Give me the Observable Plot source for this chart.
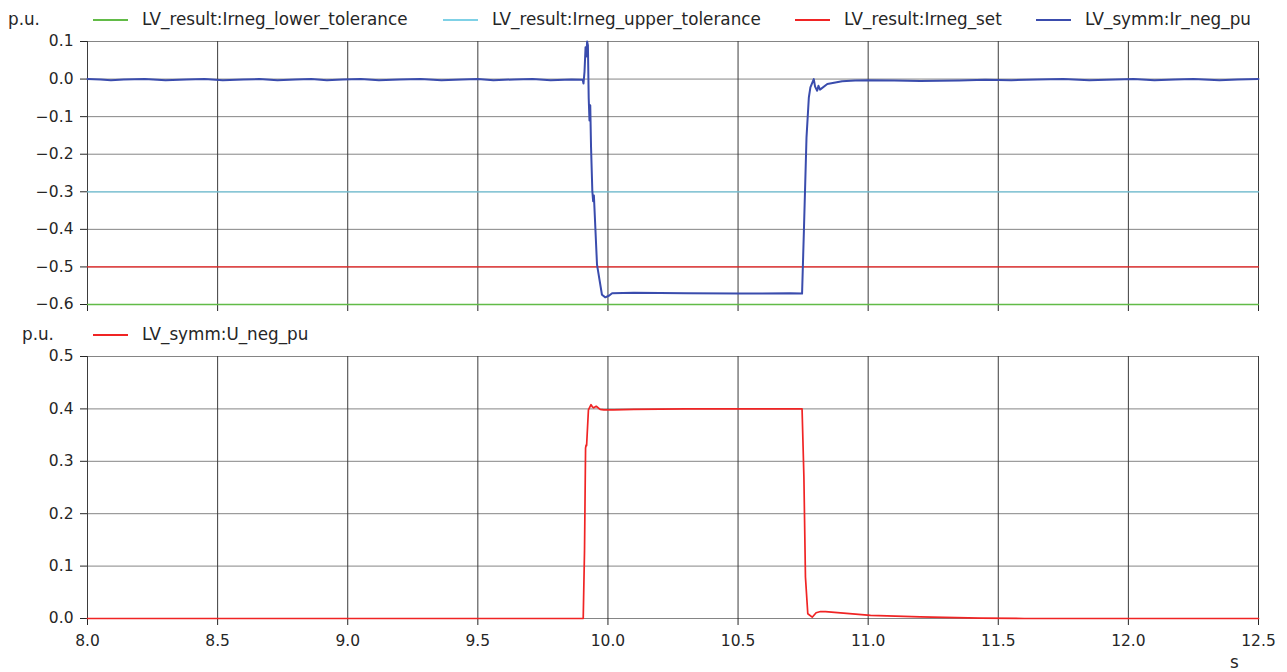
<!DOCTYPE html>
<html>
<head>
<meta charset="utf-8">
<script src="https://cdn.jsdelivr.net/npm/d3@7"></script>
<script src="https://cdn.jsdelivr.net/npm/@observablehq/plot@0.6"></script>
<style>
  html, body { margin: 0; padding: 0; background: #fff; }
  #wrap { position: relative; width: 1287px; height: 672px; overflow: hidden; font-family: "DejaVu Sans", sans-serif; color: #262626; background: #fff; }
  .abs { position: absolute; }
  .lg { position: absolute; font-size: 16.8px; line-height: 1.3; white-space: nowrap; transform: translateY(-50%); z-index: 2; }
  .sw { position: absolute; height: 2px; width: 35px; transform: translateY(-50%); z-index: 2; }
  svg { display: block; }
</style>
</head>
<body>
<div id="wrap"></div>
<script>
// ---------- data ----------
const xTicks = [8.0, 8.5, 9.0, 9.5, 10.0, 10.5, 11.0, 11.5, 12.0, 12.5];
const yTicksTop = [-0.6, -0.5, -0.4, -0.3, -0.2, -0.1, 0.0, 0.1];
const yTicksBottom = [0.0, 0.1, 0.2, 0.3, 0.4, 0.5];

const tolTime = [8.0, 12.5];
const irnegLowerTol = [-0.6, -0.6];
const irnegUpperTol = [-0.3, -0.3];
const irnegSet = [-0.5, -0.5];

const irTime = [8.00, 8.05, 8.09, 8.14, 8.22, 8.30, 8.38, 8.45, 8.52, 8.60, 8.66, 8.73, 8.80, 8.86, 8.92, 8.98,
  9.05, 9.12, 9.20, 9.28, 9.36, 9.44, 9.50, 9.56, 9.64, 9.71, 9.78, 9.86, 9.903, 9.906, 9.910, 9.914, 9.917,
  9.920, 9.923, 9.926, 9.929, 9.932, 9.935, 9.940, 9.943, 9.946, 9.958, 9.977, 9.990, 10.005, 10.016, 10.10,
  10.30, 10.50, 10.70, 10.746, 10.753, 10.763, 10.772, 10.778, 10.791, 10.796, 10.804, 10.809, 10.815, 10.843,
  10.90, 10.95, 11.00, 11.10, 11.20, 11.35, 11.45, 11.55, 11.65, 11.75, 11.85, 11.95, 12.02, 12.10, 12.18,
  12.25, 12.35, 12.42, 12.50];
const irNegPu = [0.000, -0.001, -0.003, -0.001, 0.000, -0.003, -0.001, 0.000, -0.003, -0.001, 0.000, -0.003, -0.001, 0.000, -0.003, -0.001,
  0.000, -0.003, -0.001, 0.000, -0.003, -0.001, 0.000, -0.003, -0.001, 0.000, -0.003, -0.001, -0.002, -0.012, 0.020, 0.085, 0.060,
  0.100, 0.090, -0.050, -0.110, -0.070, -0.180, -0.298, -0.325, -0.310, -0.494, -0.574, -0.581, -0.576, -0.570, -0.569,
  -0.570, -0.571, -0.570, -0.571, -0.405, -0.156, -0.049, -0.022, 0.000, -0.020, -0.031, -0.018, -0.028, -0.013,
  -0.006, -0.004, -0.003, -0.004, -0.005, -0.004, -0.002, -0.003, -0.001, 0.000, -0.003, -0.001, 0.000, -0.003, -0.001,
  0.000, -0.003, -0.001, 0.000];

const uTime = [8.00, 9.905, 9.910, 9.914, 9.916, 9.918, 9.925, 9.935, 9.940, 9.945, 9.955, 9.970, 9.984, 10.021,
  10.10, 10.30, 10.50, 10.746, 10.753, 10.759, 10.768, 10.785, 10.800, 10.817, 10.836, 11.009, 11.20, 11.43, 11.60, 12.50];
const uNegPu = [0.000, 0.000, 0.130, 0.325, 0.331, 0.330, 0.398, 0.408, 0.404, 0.402, 0.405, 0.399, 0.398, 0.398,
  0.399, 0.400, 0.400, 0.400, 0.271, 0.079, 0.009, 0.0025, 0.011, 0.0134, 0.013, 0.006, 0.003, 0.0006, 0.000, 0.000];

const legendTop = [
  {label: "LV_result:Irneg_lower_tolerance", color: "#62bb47", x: 93},
  {label: "LV_result:Irneg_upper_tolerance", color: "#7fd1e6", x: 443},
  {label: "LV_result:Irneg_set", color: "#f02424", x: 795},
  {label: "LV_symm:Ir_neg_pu", color: "#3a4cad", x: 1036}
];
const legendBottom = [
  {label: "LV_symm:U_neg_pu", color: "#f02424", x: 93}
];

// ---------- helpers ----------
const fmt = d3.format(".1f");
const toRows = (ts, vs) => ts.map((t, i) => ({t, v: vs[i]}));
const wrap = document.getElementById("wrap");

function addText(txt, left, cy, cls = "lg") {
  const d = document.createElement("div");
  d.className = cls;
  d.style.left = left + "px";
  d.style.top = cy + "px";
  d.textContent = txt;
  wrap.appendChild(d);
}
function addLegend(items, cy, unitLeft) {
  addText("p.u.", unitLeft, cy);
  for (const it of items) {
    const s = document.createElement("div");
    s.className = "sw";
    s.style.left = it.x + "px";
    s.style.top = cy + "px";
    s.style.background = it.color;
    wrap.appendChild(s);
    addText(it.label, it.x + 49, cy);
  }
}
function place(svg, top) {
  const d = document.createElement("div");
  d.className = "abs";
  d.style.left = "0px";
  d.style.top = top + "px";
  d.appendChild(svg);
  wrap.appendChild(d);
}

const baseStyle = {fontFamily: "DejaVu Sans", fontSize: "15.5px", color: "#262626", background: "transparent", overflow: "visible"};

// ---------- top panel ----------
const topPlot = Plot.plot({
  width: 1287, height: 288,
  marginLeft: 87, marginRight: 29, marginTop: 15, marginBottom: 10,
  x: {domain: [8, 12.5], axis: null},
  y: {domain: [-0.6, 0.1], axis: null},
  style: baseStyle,
  marks: [
    Plot.ruleY(yTicksTop, {stroke: "#858585", strokeWidth: 1}),
    Plot.ruleX(xTicks, {stroke: "#3d3d3d", strokeWidth: 1}),
    Plot.axisY({ticks: yTicksTop, tickFormat: fmt, tickSize: 7, tickPadding: 7, label: null}),
    Plot.axisX({ticks: xTicks, tickFormat: () => "", tickSize: 7, label: null}),
    Plot.line(toRows(tolTime, irnegLowerTol), {x: "t", y: "v", stroke: legendTop[0].color, strokeWidth: 1.3}),
    Plot.line(toRows(tolTime, irnegUpperTol), {x: "t", y: "v", stroke: legendTop[1].color, strokeWidth: 1.3}),
    Plot.line(toRows(tolTime, irnegSet), {x: "t", y: "v", stroke: legendTop[2].color, strokeWidth: 1.3}),
    Plot.line(toRows(irTime, irNegPu), {x: "t", y: "v", stroke: legendTop[3].color, strokeWidth: 2, curve: "linear"})
  ]
});

// ---------- bottom panel ----------
const bottomPlot = Plot.plot({
  width: 1287, height: 312,
  marginLeft: 87, marginRight: 29, marginTop: 12, marginBottom: 38,
  x: {domain: [8, 12.5], axis: null},
  y: {domain: [0, 0.5], axis: null},
  style: baseStyle,
  marks: [
    Plot.ruleY(yTicksBottom, {stroke: "#858585", strokeWidth: 1}),
    Plot.ruleX(xTicks, {stroke: "#3d3d3d", strokeWidth: 1}),
    Plot.axisY({ticks: yTicksBottom, tickFormat: fmt, tickSize: 7, tickPadding: 7, label: null}),
    Plot.axisX({ticks: xTicks, tickFormat: fmt, tickSize: 7, tickPadding: 9, label: null}),
    Plot.line(toRows(uTime, uNegPu), {x: "t", y: "v", stroke: legendBottom[0].color, strokeWidth: 1.7})
  ]
});

place(topPlot, 26);
place(bottomPlot, 344);
addLegend(legendTop, 20, 8);
addLegend(legendBottom, 334.5, 22);
addText("s", 1230, 663);
</script>
</body>
</html>
